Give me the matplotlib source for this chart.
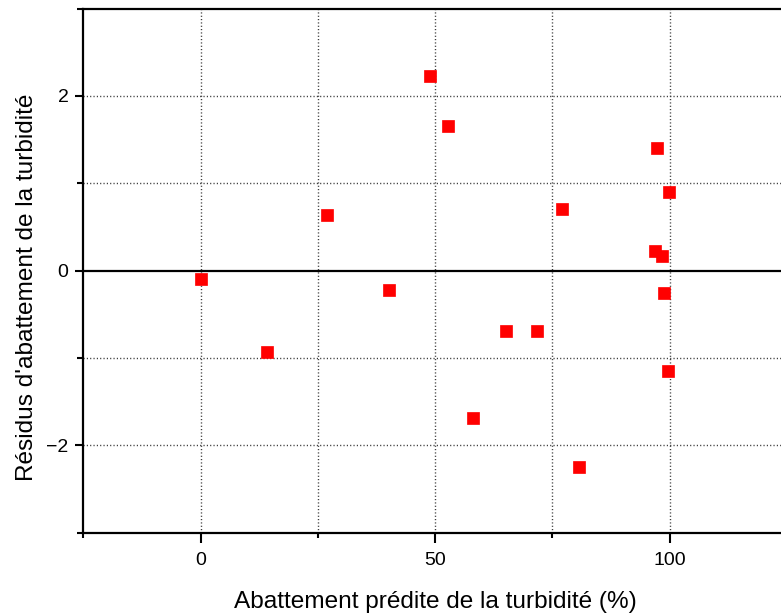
import matplotlib
matplotlib.use("Agg")
import matplotlib.pyplot as plt
from matplotlib.ticker import FixedLocator

plt.rcParams['font.family'] = ['Liberation Sans', 'DejaVu Sans']

# Predicted turbidity removal (%) and residuals
predicted = [0.0, 14.1, 26.9, 40.2, 48.9, 52.7, 58.1, 65.1, 71.7, 77.0,
             80.6, 97.2, 99.8, 96.8, 98.4, 98.8, 99.7]
residuals = [-0.095, -0.93, 0.634, -0.224, 2.232, 1.653, -1.686, -0.696,
             -0.685, 0.706, -2.244, 1.401, 0.901, 0.229, 0.165, -0.252, -1.145]

x_major = [0, 50, 100]
x_minor = [-25, 25, 75, 125]
y_major = [-2, 0, 2]
y_minor = [-3, -1, 1, 3]

W, H = 781, 614
fig = plt.figure(figsize=(W / 100, H / 100), dpi=100)
ax = fig.add_axes([83.4 / W, (H - 532.75) / H, (787 - 83.4) / W, (532.75 - 8.65) / H])

ax.set_xlim(-25, 125)
ax.set_ylim(-3, 3)

# dotted grid
grid_kw = dict(color='0.2', linestyle=(0, (0.8, 1.6)), linewidth=1.0, zorder=1)
for gx in [0, 25, 50, 75, 100]:
    ax.axvline(gx, **grid_kw)
for gy in [-2, -1, 1, 2]:
    ax.axhline(gy, **grid_kw)
ax.axhline(0, color='black', linewidth=1.6, zorder=2)

ax.plot(predicted, residuals, linestyle='none', marker='s', markersize=8,
        markerfacecolor='#ff0000', markeredgecolor='#ff0000', markeredgewidth=0.5,
        zorder=3, clip_on=False)

ax.xaxis.set_major_locator(FixedLocator(x_major))
ax.xaxis.set_minor_locator(FixedLocator(x_minor))
ax.yaxis.set_major_locator(FixedLocator(y_major))
ax.yaxis.set_minor_locator(FixedLocator(y_minor))

ax.tick_params(axis='x', which='major', direction='out', length=7.2, width=1.5,
               labelsize=14, pad=7, top=False)
ax.tick_params(axis='x', which='minor', direction='out', length=3.6, width=1.5, top=False)
ax.tick_params(axis='y', which='major', direction='out', length=5.8, width=1.5,
               labelsize=14, pad=5, right=False)
ax.tick_params(axis='y', which='minor', direction='out', length=4.3, width=1.5, right=False)

for side in ['left', 'bottom', 'top', 'right']:
    ax.spines[side].set_linewidth(1.6)

fig.text(435 / W, 1 - 608 / H, "Abattement prédite de la turbidité (%)",
         fontsize=17.6, ha='center', va='baseline')
fig.text(33 / W, 1 - 287 / H, "Résidus d'abattement de la turbidité",
         fontsize=17.6, ha='center', va='baseline', rotation=90, rotation_mode='anchor')

fig.savefig("out.png", dpi=100)
